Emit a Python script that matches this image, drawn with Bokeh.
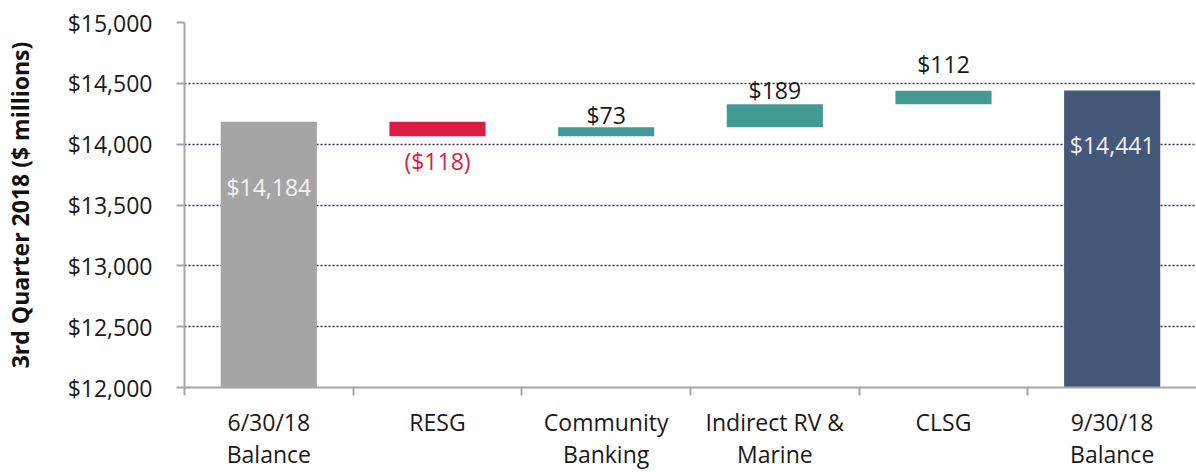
from bokeh.plotting import figure
from bokeh.models import (ColumnDataSource, Range1d, LinearAxis,
                          FixedTicker, NumeralTickFormatter)
from bokeh.embed import file_html
from bokeh.resources import INLINE

# ---- data ----
categories = ["6/30/18\nBalance", "RESG", "Community\nBanking",
              "Indirect RV &\nMarine", "CLSG", "9/30/18\nBalance"]
start_balance = 14184
changes = [-118, 73, 189, 112]
end_balance = 14441
y_ticks = [12000, 12500, 13000, 13500, 14000, 14500, 15000]

# ---- styles ----
FONT = "Open Sans"
C_TOTAL_START = "#a5a5a5"
C_TOTAL_END = "#44587a"
C_UP = "#439a94"
C_DOWN = "#d81e44"
label_dy = [65, 25, -12, -14, -27, 54]

n = len(categories)
xpos = [i + 0.5 for i in range(n)]

y0 = y_ticks[0]
bottoms, tops, colors = [y0], [start_balance], [C_TOTAL_START]
running = start_balance
for c in changes:
    new = running + c
    bottoms.append(min(running, new))
    tops.append(max(running, new))
    colors.append(C_UP if c >= 0 else C_DOWN)
    running = new
bottoms.append(y0)
tops.append(end_balance)
colors.append(C_TOTAL_END)

def money(v):
    return f"(${abs(v):,})" if v < 0 else f"${v:,}"

texts = [money(start_balance)] + [money(c) for c in changes] + [money(end_balance)]
label_y = [start_balance] + [(b if c < 0 else t) for b, t, c in zip(bottoms[1:-1], tops[1:-1], changes)] + [end_balance]
label_col = ["#f2f2f2"] + [("#d81e44" if c < 0 else "#1a1a1a") for c in changes] + ["#f2f2f2"]

src = ColumnDataSource(dict(x=xpos, bottom=bottoms, top=tops, color=colors))
lsrc = ColumnDataSource(dict(x=xpos, y=label_y, text=texts, color=label_col, dy=label_dy))

p = figure(width=1196, height=472, x_range=Range1d(0, n), y_range=(y_ticks[0], y_ticks[-1]),
           output_backend="svg", toolbar_location=None, x_axis_location=None,
           min_border_left=183, min_border_top=22, min_border_right=0, min_border_bottom=70)
p.outline_line_color = None
p.background_fill_color = "white"
p.border_fill_color = "white"

p.vbar(x="x", bottom="bottom", top="top", width=0.57, color="color", line_color=None, source=src)
p.text(x="x", y="y", text="text", text_color="color", y_offset="dy", source=lsrc,
       text_align="center", text_baseline="middle", text_font_size="23px",
       text_font={"value": FONT})

# y axis
ya = p.yaxis[0]
ya.ticker = FixedTicker(ticks=y_ticks)
ya.formatter = NumeralTickFormatter(format="$0,0")
ya.major_label_text_font = FONT
ya.major_label_text_font_size = "23px"
ya.major_label_text_color = "#1a1a1a"
ya.major_tick_out = 8
ya.major_tick_in = 0
ya.minor_tick_line_color = None
ya.axis_line_color = "#a6a6a6"
ya.axis_line_width = 2
ya.major_tick_line_color = "#a6a6a6"
ya.major_tick_line_width = 2
ya.major_label_standoff = 24
ya.axis_label = "3rd Quarter 2018 ($ millions)"
ya.axis_label_text_font = FONT
ya.axis_label_text_font_style = "bold"
ya.axis_label_text_font_size = "23px"
ya.axis_label_text_color = "#111111"
ya.axis_label_standoff = 29

p.xgrid.grid_line_color = None
p.ygrid.grid_line_color = "#3e2f52"
p.ygrid.grid_line_dash = "2 2"
p.ygrid.grid_line_width = 1.5

# tick axis: ticks between categories
tick_axis = LinearAxis(ticker=FixedTicker(ticks=list(range(n))))
tick_axis.axis_line_color = "#a6a6a6"
tick_axis.axis_line_width = 2
tick_axis.major_tick_line_color = "#a6a6a6"
tick_axis.major_tick_line_width = 2
tick_axis.major_tick_out = 8
tick_axis.major_tick_in = 0
tick_axis.minor_tick_line_color = None
tick_axis.major_label_text_font_size = "1px"
tick_axis.major_label_text_color = None
tick_axis.major_label_standoff = -4
p.add_layout(tick_axis, "below")

# label axis: category names at category centres
cat_axis = LinearAxis(ticker=FixedTicker(ticks=xpos),
                      major_label_overrides={x: c for x, c in zip(xpos, categories)})
cat_axis.axis_line_color = None
cat_axis.major_tick_line_color = None
cat_axis.minor_tick_line_color = None
cat_axis.major_label_text_font = FONT
cat_axis.major_label_text_font_size = "23px"
cat_axis.major_label_text_color = "#1a1a1a"
cat_axis.major_label_text_line_height = 1.0
cat_axis.major_label_standoff = 4
p.add_layout(cat_axis, "below")

open("out.html", "w").write(file_html(p, INLINE))
